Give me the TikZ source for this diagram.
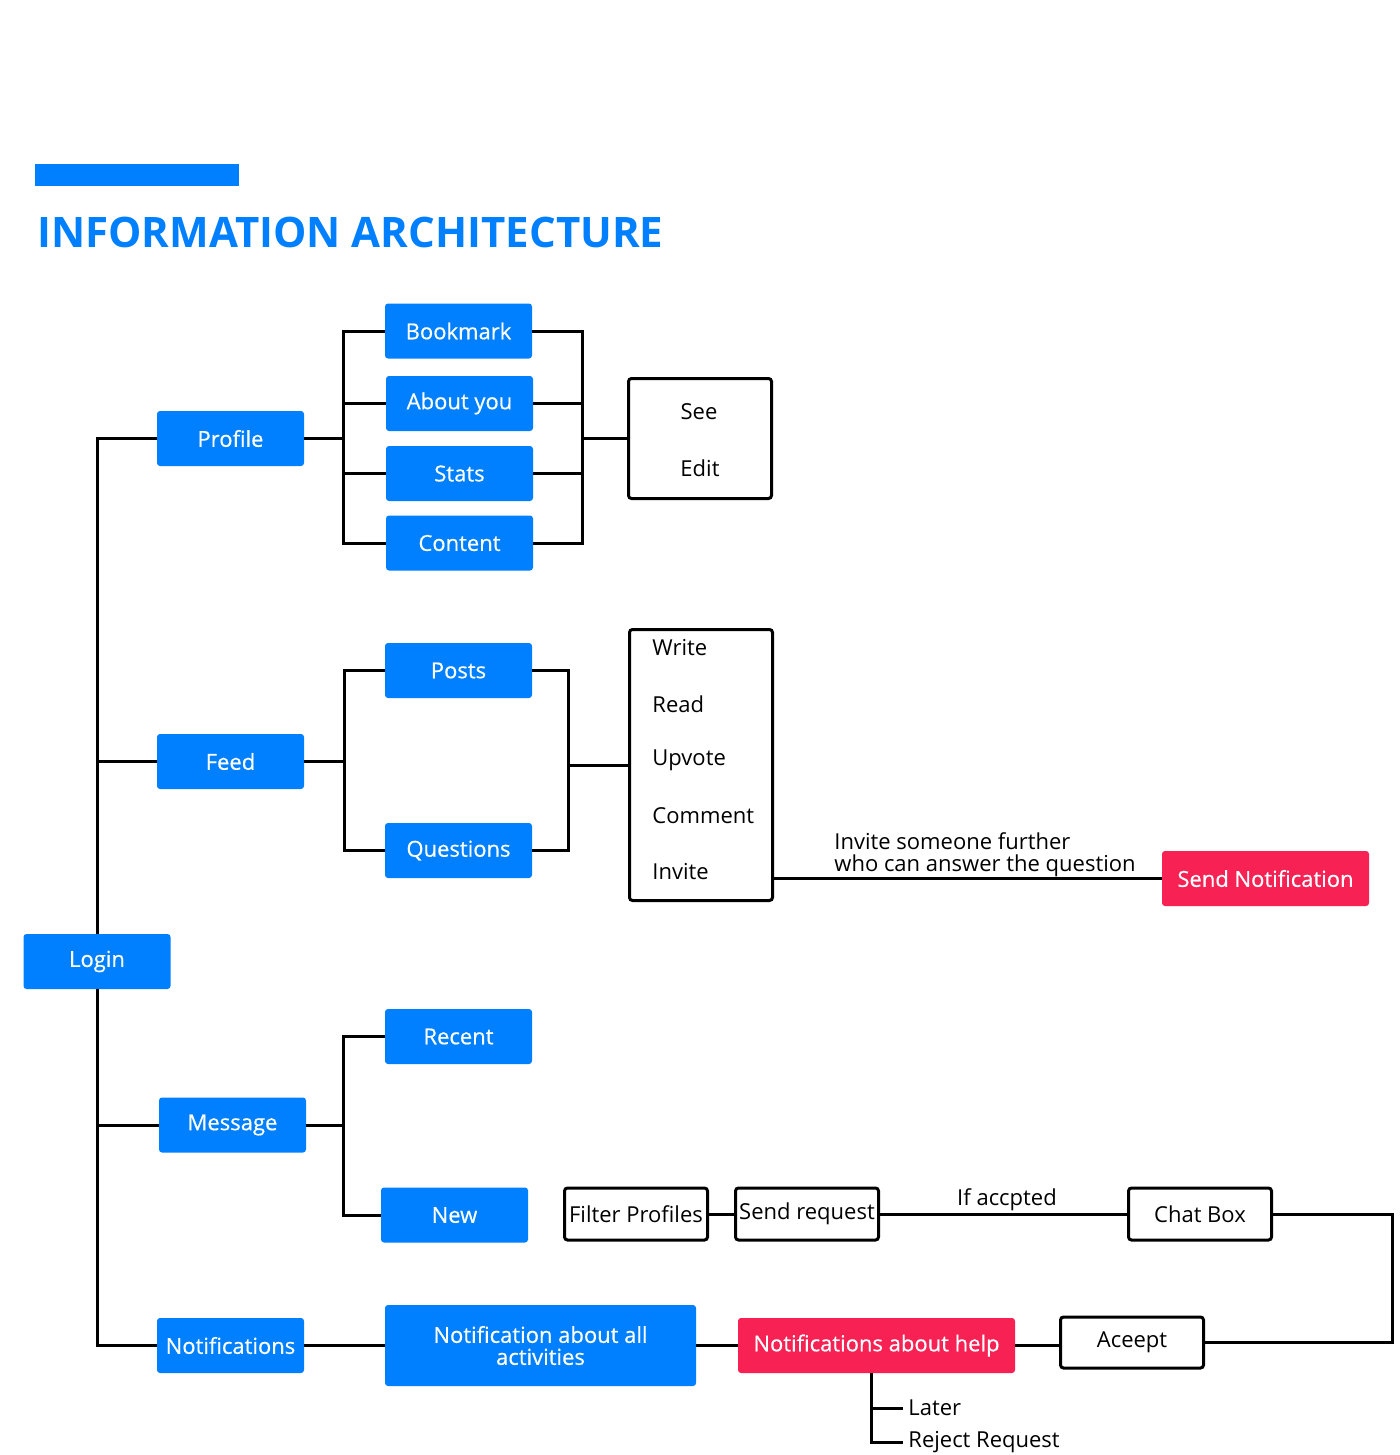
\documentclass[tikz,border=0pt]{standalone}
\usepackage{fontspec}
\setmainfont{Open Sans}
\newfontfamily\boxfont[FakeBold=0.5]{Open Sans}
\definecolor{iablue}{RGB}{0,128,255}
\definecolor{iared}{RGB}{247,33,83}
\begin{document}
\begin{tikzpicture}[x=0.5pt,y=-0.5pt,
  lbl/.style={font=\fontsize{11}{11}\selectfont},
  bluebox/.style={font=\boxfont\fontsize{11}{11}\selectfont, fill=iablue, rounded corners=1.5pt, text=white, minimum width=73.5pt, minimum height=27.5pt, inner sep=0pt},
  redbox/.style={bluebox, fill=iared},
  whitebox/.style={lbl, draw=black, line width=1.5pt, rounded corners=1.5pt, fill=white, minimum width=71.5pt, minimum height=26pt, inner sep=0pt},
  conn/.style={line width=1.5pt, draw=black},
  txt/.style={lbl, inner sep=0pt}]
\useasboundingbox (0,0) rectangle (1400,1455);
\fill[white] (0,0) rectangle (1400,1455);
% title
\fill[iablue] (35,164) rectangle (239,186);
\node[anchor=base west, font=\bfseries\fontsize{21}{26}\selectfont, text=iablue, inner sep=0pt] (title) at (37,248) {INFORMATION ARCHITECTURE};
% main column
\node[bluebox] (profile) at (230.5,438.5) {Profile};
\node[bluebox] (feed) at (230.5,761.5) {Feed};
\node[bluebox] (login) at (97,961.5) {Login};
\node[bluebox] (message) at (232.5,1125) {Message};
\node[bluebox] (notif) at (230.5,1345.5) {Notifications};
% profile children
\node[bluebox] (bookmark) at (458.5,331) {Bookmark};
\node[bluebox] (about) at (459.5,403.5) {About you};
\node[bluebox] (stats) at (459.5,473.5) {Stats};
\node[bluebox] (content) at (459.5,543) {Content};
\node[whitebox, minimum height=60pt] (seeedit) at (700,438.5) {};
\node[txt] (see) at (699,412) {See};
\node[txt] (edit) at (700,468) {Edit};
% feed children
\node[bluebox] (posts) at (458.5,670.5) {Posts};
\node[bluebox] (questions) at (458.5,850.5) {Questions};
\node[whitebox, minimum height=135.5pt] (actions) at (701,765) {};
\node[txt, anchor=west] (write) at (652,648) {Write};
\node[txt, anchor=west] (read) at (652,704) {Read};
\node[txt, anchor=west] (upvote) at (652,760) {Upvote};
\node[txt, anchor=west] (comment) at (652,816) {Comment};
\node[txt, anchor=west] (invite) at (652,872) {Invite};
\node[redbox, minimum width=103.5pt] (sendnotif) at (1265.5,878.5) {Send Notification};
\node[txt, anchor=west, align=left] (invitelbl) at (834,855) {Invite someone further\\who can answer the question};
% message children
\node[bluebox] (recent) at (458.5,1036.5) {Recent};
\node[bluebox] (new) at (454.5,1215) {New};
\node[whitebox] (filter) at (636,1214) {Filter Profiles};
\node[whitebox] (sendreq) at (807,1214) {Send request};
\node[whitebox] (chatbox) at (1200,1214) {Chat Box};
\node[txt] (ifacc) at (1007,1200) {If accpted};
% notifications children
\node[bluebox, minimum width=155.5pt, minimum height=40.5pt, align=center] (naa) at (540.5,1345.5) {Notification about all\\activities};
\node[redbox, minimum width=138.5pt] (nah) at (876.5,1345.5) {Notifications about help};
\node[whitebox, minimum height=25.5pt] (aceept) at (1132,1342.5) {Aceept};
\node[txt, anchor=west, inner xsep=2.5pt] (later) at (903,1408) {Later};
\node[txt, anchor=west, inner xsep=2.5pt] (reject) at (903,1442) {Reject Request};
% connectors: trunk
\draw[conn] (login.north) -- (login.north |- profile.west) -- (profile.west);
\draw[conn] (login.south) -- (login.south |- notif.west) -- (notif.west);
\draw[conn] (login.south |- feed.west) -- (feed.west);
\draw[conn] (login.south |- message.west) -- (message.west);
% profile bracket
\coordinate (pl) at (343,0);
\coordinate (pr) at (582,0);
\draw[conn] (profile.east) -- (profile.east -| pl);
\draw[conn] (bookmark.west) -- (bookmark.west -| pl) -- (content.west -| pl) -- (content.west);
\draw[conn] (about.west) -- (about.west -| pl);
\draw[conn] (stats.west) -- (stats.west -| pl);
\draw[conn] (bookmark.east) -- (bookmark.east -| pr) -- (content.east -| pr) -- (content.east);
\draw[conn] (about.east) -- (about.east -| pr);
\draw[conn] (stats.east) -- (stats.east -| pr);
\draw[conn] (seeedit.west -| pr) -- (seeedit.west);
% feed bracket
\coordinate (fl) at (344,0);
\coordinate (fr) at (568,0);
\draw[conn] (feed.east) -- (feed.east -| fl);
\draw[conn] (posts.west) -- (posts.west -| fl) -- (questions.west -| fl) -- (questions.west);
\draw[conn] (posts.east) -- (posts.east -| fr) -- (questions.east -| fr) -- (questions.east);
\draw[conn] (actions.west -| fr) -- (actions.west);
\draw[conn] (actions.east |- sendnotif.west) -- (sendnotif.west);
% message bracket
\coordinate (ml) at (343,0);
\draw[conn] (message.east) -- (message.east -| ml);
\draw[conn] (recent.west) -- (recent.west -| ml) -- (new.west -| ml) -- (new.west);
\draw[conn] (filter.east) -- (sendreq.west);
\draw[conn] (sendreq.east) -- (chatbox.west);
\coordinate (cr) at (1392,0);
\draw[conn] (chatbox.east) -- (chatbox.east -| cr) -- (aceept.east -| cr) -- (aceept.east);
% notifications row
\draw[conn] (notif.east) -- (naa.west);
\draw[conn] (naa.east) -- (nah.west);
\draw[conn] (nah.east) -- (nah.east -| aceept.west);
\coordinate (nd) at (871,0);
\draw[conn] (nah.south -| nd) -- (nd |- reject.west) -- (reject.west);
\draw[conn] (nd |- later.west) -- (later.west);
\end{tikzpicture}
\end{document}
